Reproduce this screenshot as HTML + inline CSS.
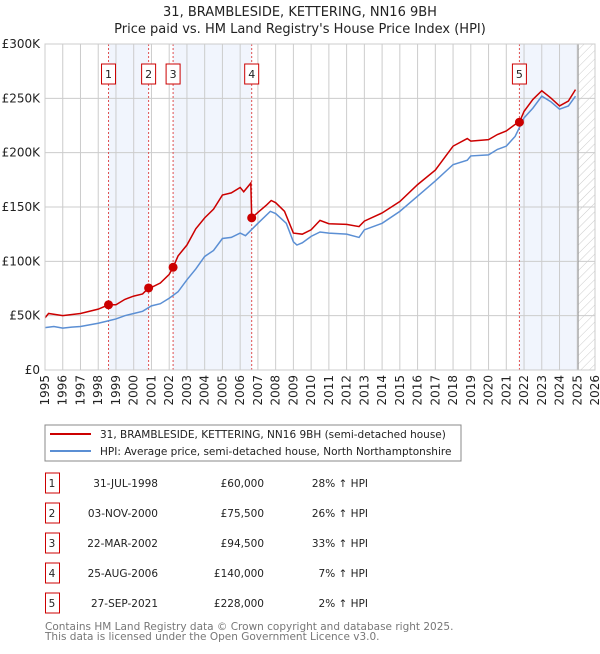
<!DOCTYPE html>
<html><head><meta charset="utf-8"><style>
body{margin:0;background:#fff;font-family:"DejaVu Sans","Liberation Sans",sans-serif;}
svg text{font-family:"DejaVu Sans","Liberation Sans",sans-serif;}
</style></head><body>
<svg id="c" width="600" height="650" viewBox="0 0 600 650">
<defs><pattern id="hatch" width="6" height="6" patternUnits="userSpaceOnUse" patternTransform="rotate(45)"><line x1="0" y1="0" x2="0" y2="6" stroke="#ccc" stroke-width="1"/></pattern></defs>
<text x="300" y="16" text-anchor="middle" font-size="13" fill="#222">31, BRAMBLESIDE, KETTERING, NN16 9BH</text>
<text x="300" y="33" text-anchor="middle" font-size="13" fill="#222">Price paid vs. HM Land Registry's House Price Index (HPI)</text>
<g id="plot"></g>
<rect x="45" y="425" width="416" height="36" fill="#fff" stroke="#888"/>
<line x1="50" y1="434" x2="91" y2="434" stroke="#cc0000" stroke-width="2"/>
<text x="100" y="438" font-size="10.5" fill="#222">31, BRAMBLESIDE, KETTERING, NN16 9BH (semi-detached house)</text>
<line x1="50" y1="451" x2="91" y2="451" stroke="#5b8fd4" stroke-width="2"/>
<text x="100" y="455" font-size="10.5" fill="#222">HPI: Average price, semi-detached house, North Northamptonshire</text>
<g id="tbl"></g>
<text x="45" y="630" font-size="10.5" fill="#777">Contains HM Land Registry data © Crown copyright and database right 2025.</text>
<text x="45" y="640" font-size="10.5" fill="#777">This data is licensed under the Open Government Licence v3.0.</text>
</svg>
<script>
const yTicks=[0,50,100,150,200,250,300];
const yTickLabels=["£0","£50K","£100K","£150K","£200K","£250K","£300K"];
const xYears=[1995,1996,1997,1998,1999,2000,2001,2002,2003,2004,2005,2006,2007,2008,2009,2010,2011,2012,2013,2014,2015,2016,2017,2018,2019,2020,2021,2022,2023,2024,2025,2026];
const hpiT=[1995,1995.5,1996,1996.5,1997,1997.5,1998,1998.5,1999,1999.5,2000,2000.5,2001,2001.5,2002,2002.5,2003,2003.5,2004,2004.5,2005,2005.5,2006,2006.3,2007,2007.7,2008,2008.6,2009,2009.2,2009.5,2010,2010.5,2011,2012,2012.7,2013,2014,2015,2016,2017,2018,2018.8,2019,2020,2020.5,2021,2021.5,2022,2022.5,2023,2023.5,2024,2024.5,2024.9];
const hpiV=[39,40,38.5,39.5,40,41.5,43,45,47,50,52,54,59,61,66,72,83,93,104.5,110,121,122,126,123.6,135,146,144,135,118,115,117,123,127,126,125,122,129,135,146,160,174,189,193,197,198,203,206,215,232,241,252,247,240,243,252];
const priceT=[1995,1995.2,1996,1997,1998,1998.58,1999,1999.5,2000,2000.5,2000.84,2001,2001.5,2002,2002.22,2002.5,2003,2003.5,2004,2004.5,2005,2005.5,2006,2006.2,2006.6,2006.65,2007,2007.5,2007.75,2008,2008.5,2009,2009.5,2010,2010.5,2011,2012,2012.7,2013,2014,2015,2016,2017,2018,2018.8,2019,2020,2020.5,2021,2021.5,2021.74,2022,2022.5,2023,2023.5,2024,2024.5,2024.9];
const priceV=[48,52,50,52,56,60,60,65,68,70,75.5,76,80,88,94.5,105,115,130,140,148,161,163,168,164,172,140,145,152,156,154,146,126,125,129,137.7,134.6,134,132,137,144.5,155,170.6,184,206,213,210.6,212,216.7,220,226,228,238,249,257,250.5,243,247.5,258];
const saleLabels=["1","2","3","4","5"];
const saleT=[1998.58,2000.84,2002.22,2006.65,2021.74];
const saleV=[60,75.5,94.5,140,228];
const saleDates=["31-JUL-1998","03-NOV-2000","22-MAR-2002","25-AUG-2006","27-SEP-2021"];
const salePrices=["£60,000","£75,500","£94,500","£140,000","£228,000"];
const saleHpi=["28% ↑ HPI","26% ↑ HPI","33% ↑ HPI","7% ↑ HPI","2% ↑ HPI"];

const L=45,R=595,T=44,B=370;
const xs=t=>L+(t-1995)/(2026-1995)*(R-L);
const ys=v=>B-v/300*(B-T);
const NS="http://www.w3.org/2000/svg";
const plot=document.getElementById('plot');
function mk(tag,attrs,parent){const e=document.createElementNS(NS,tag);for(const k in attrs)e.setAttribute(k,attrs[k]);(parent||plot).appendChild(e);return e;}

const shadeStart=[saleT[0],saleT[2],saleT[4]];
const shadeEnd=[saleT[1],saleT[3],2025.05];
for(let i=0;i<shadeStart.length;i++){
  const r=mk('rect',{x:xs(shadeStart[i]),y:T,width:xs(shadeEnd[i])-xs(shadeStart[i]),height:B-T,fill:'#eef3fc',opacity:0.8});
  
  
}
const h=mk('rect',{x:xs(2025.05),y:T,width:R-xs(2025.05),height:B-T,fill:'url(#hatch)'});



yTicks.forEach((v,i)=>{
  const g=mk('line',{x1:L,x2:R,y1:ys(v),y2:ys(v),stroke:'#ccc','stroke-width':1});
  
  
  const t=mk('text',{x:40,y:ys(v)+4,'text-anchor':'end','font-size':12,fill:'#222'});
  t.textContent=yTickLabels[i];
  
  
});
xYears.forEach(yr=>{
  const g=mk('line',{x1:xs(yr),x2:xs(yr),y1:T,y2:B,stroke:'#ccc','stroke-width':1});
  
  
  const t=mk('text',{x:0,y:0,'text-anchor':'end','font-size':12,fill:'#222',transform:`translate(${xs(yr)+4},${B+5}) rotate(-90)`});
  t.textContent=yr;
  
  
});
const vl=mk('line',{x1:xs(2025.05),x2:xs(2025.05),y1:T,y2:B,stroke:'#999','stroke-width':1});



saleT.forEach((t,i)=>{
  const l=mk('line',{x1:xs(t),x2:xs(t),y1:T,y2:B,stroke:'#e05050','stroke-width':1,'stroke-dasharray':'2,2'});
  
  
  const bx=mk('rect',{x:xs(t)-7,y:64,width:14,height:20,fill:'#fff',stroke:'#cc0000','stroke-width':1});
  
  
  const tx=mk('text',{x:xs(t),y:78,'text-anchor':'middle','font-size':11,fill:'#222'});
  tx.textContent=saleLabels[i];
  
  
});

const hp=mk('polyline',{points:hpiT.map((t,i)=>xs(t)+','+ys(hpiV[i])).join(' '),fill:'none',stroke:'#5b8fd4','stroke-width':1.5});


const pp=mk('polyline',{points:priceT.map((t,i)=>xs(t)+','+ys(priceV[i])).join(' '),fill:'none',stroke:'#cc0000','stroke-width':1.5});


saleT.forEach((t,i)=>{
  const c=mk('circle',{cx:xs(t),cy:ys(saleV[i]),r:4.5,fill:'#cc0000'});
  
  
});
const fr=mk('rect',{x:L,y:T,width:R-L,height:B-T,fill:'none',stroke:'#ccc'});



const tbl=document.getElementById('tbl');
saleLabels.forEach((s,i)=>{
  const y=483+i*30;
  const b=mk('rect',{x:45.5,y:y-10,width:14,height:20,fill:'#fff',stroke:'#cc0000'},tbl);
  
  
  const cells=[[s,52,'middle'],[saleDates[i],158,'end'],[salePrices[i],264,'end'],[saleHpi[i],368,'end']];
  cells.forEach(c=>{
    const t=mk('text',{x:c[1],y:y+4,'text-anchor':c[2],'font-size':10.5,fill:'#222'},tbl);
    t.textContent=c[0];
    
    
  });
});
</script>
</body></html>
